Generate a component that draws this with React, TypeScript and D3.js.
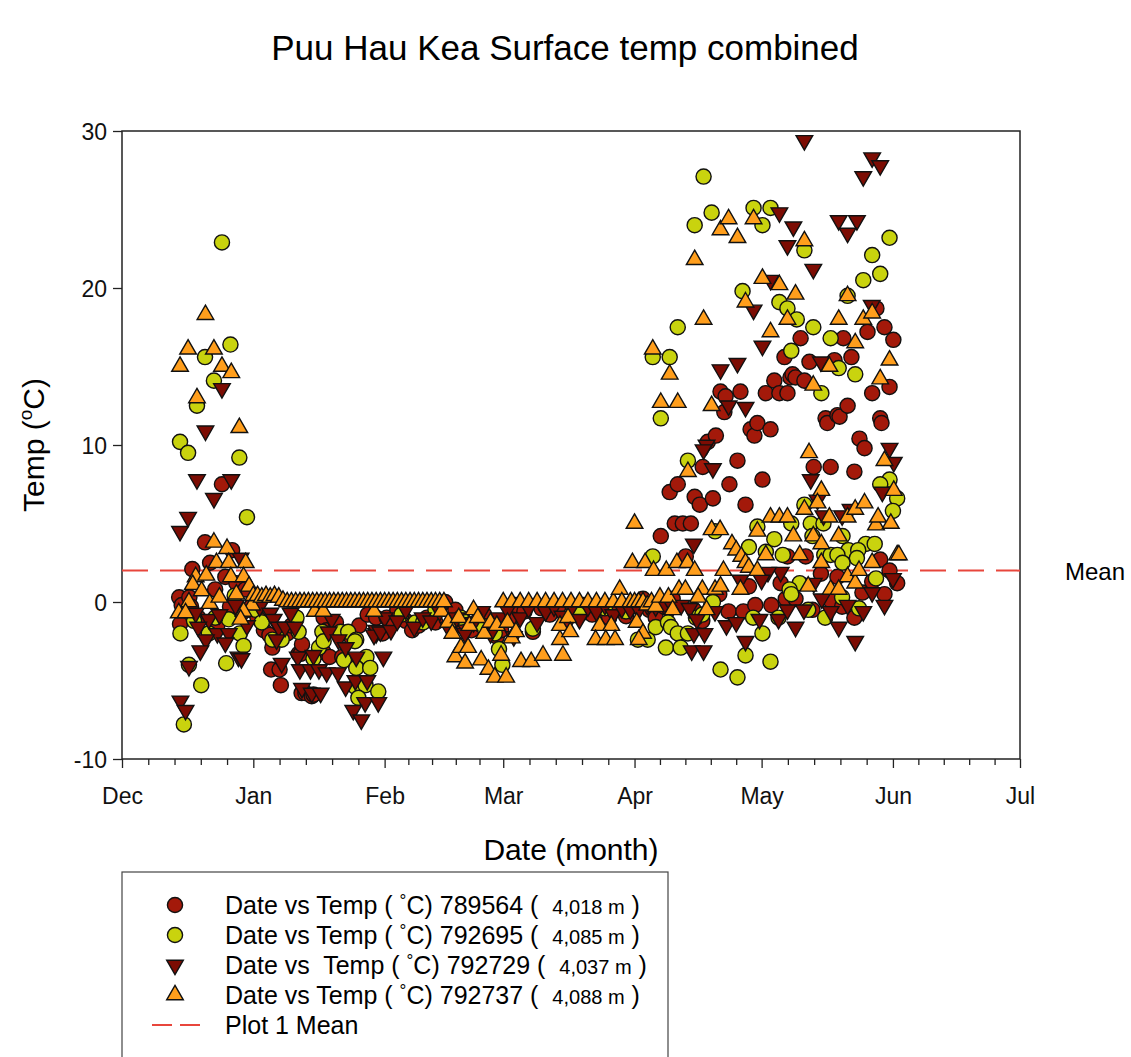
import * as d3 from 'd3';
import React, { useEffect, useRef } from 'react';

// day offsets are counted from Dec 1 (day 0); values are °C
const seriesRed: [number, number][] = [
  [13.5, 0.3], [13.7, -1.4], [14.1, -0.2], [15.9, 0.3], [16.3, -0.3], [16.6, 2.1], [18, -1], [19.6, 3.8], [20.8, 2.5],
  [22, 0.8], [22.5, -1.5], [23.6, 7.5], [24.4, 1.6], [25.5, -0.3], [26, 3.3], [27, 1.2], [28, -0.8], [29.1, 0.8], [30, -0.5],
  [30.5, -0.3], [32, -1.0], [33.5, -1.8], [34.8, -2.1], [35.5, -2.9], [35.2, -4.3], [37.2, -4.3], [37.5, -5.3], [39, -2.0],
  [40, -1.5], [41.7, -3.3], [42.2, -3.3], [42.5, -2.7], [42.4, -5.8], [43.3, -5.8], [44.8, -6.0], [45.2, -5.9], [47.6, -3.2],
  [47.6, -1.0], [48.3, -1.8], [49, -3.5], [50.5, -1.3], [52, -3.5], [54, -2.2], [56, -1.5], [58, -0.8], [60, -1.0], [61.5, -2.0],
  [62.5, -1.0], [64, -1.3], [65, -0.5], [67, -1.2], [68.5, -1.8], [70, -1.5], [72, -1.0], [74, -1.3], [76.3, 0], [78.7, -0.5],
  [80, -1.5], [81, -1.3], [82.5, -1.8], [84, -1.2], [85.5, -0.8], [87, -1.5], [88.5, -2.2], [89.5, -1.8],
  [91.6, -1.0], [93, -0.2], [95, -0.6], [97, -1.9], [99, -0.4], [101, -0.8], [103, -0.3], [105, -1.1], [107, -0.5], [109, -0.2],
  [111, -0.8], [113, -0.4], [115, -1.0], [117, -0.5], [119, -0.9],
  [127.2, 4.2], [129.3, 7.0], [131.2, 7.5], [130.5, 5.0], [132.4, 5.0], [134.3, 5.0], [133.1, 2.9], [135.2, 6.7], [136.4, 6.2],
  [137.1, 8.6], [138.3, 10.2], [139.5, 6.6], [140.2, 10.6], [141.3, 13.4], [142.2, 12.1], [142.5, 13.1], [143.4, 7.5], [145.3, 9.0],
  [146, 13.4], [147.2, 6.2], [148.4, 11.0], [149.3, 10.6], [150, 11.4], [151.2, 7.8], [152, 13.3], [153.1, 11.0], [154, 14.1],
  [155.2, 13.3], [156.4, 15.6], [157.1, 13.3], [157.8, 14.3], [158.3, 14.5], [159, 14.3], [160.2, 16.8], [161.1, 14.1],
  [162.3, 15.3], [163.3, 8.6], [166.1, 11.7], [166.5, 11.4], [167.3, 8.6], [168.2, 15.4], [168.9, 11.9], [169.4, 11.8],
  [170.3, 16.8], [171.3, 12.5], [172.2, 15.6], [172.9, 8.3], [174.1, 10.4], [175.3, 9.8], [176, 17.2], [177.1, 13.3],
  [178.1, 18.7], [179, 11.7], [179.3, 11.4], [180, 17.5], [181.2, 13.7], [182.1, 16.7],
  [121.5, -0.3], [123, 0.2], [124.5, -0.5], [126, -1.0], [128, -0.3], [130, 0.2], [135, -0.5], [137, -1.2], [139, -0.3],
  [141, 0.5], [143.2, -0.6], [146.7, -0.6], [148, 1.0], [149.5, -0.2], [153.3, -0.2], [155.5, 1.2], [156.7, 0.2], [157.1, 2.9],
  [159, 0.2], [161.4, 2.9], [163, -0.5], [165, 1.8], [167.3, 0.1], [168.9, 1.6], [170, -0.3], [172.9, -1.0], [174.8, 0.6],
  [177.1, 1.3], [179, 2.7], [180, 0.5], [181.2, 2.0], [183, 1.2],
];

const seriesYellow: [number, number][] = [
  [13.7, 10.2], [15.6, 9.5], [17.7, 12.5], [19.6, 15.6], [21.7, 14.1], [23.6, 22.9], [25.6, 16.4], [27.7, 9.2], [29.5, 5.4],
  [26.6, 0.4], [13.8, -2.0], [20.5, -2.0], [25.2, -1.1], [27.8, -2.0], [28.7, -2.8], [15.8, -4.0], [24.6, -3.9], [18.7, -5.3],
  [14.6, -7.8], [22, -1.0], [17, -1.2],
  [31.5, -0.5], [33, -1.3], [35.5, -2.4], [37.7, -2.4], [41.7, -1.9], [41.2, -1.0], [45.2, -3.6], [46.5, -2.9], [47.3, -1.9],
  [47.6, -2.5], [51.6, -1.9], [53.4, -1.9], [55.3, -2.4], [55, -2.5], [52.4, -3.7], [57.7, -3.5], [55.3, -4.2], [58.6, -4.2],
  [55.1, -5.4], [57.5, -5.3], [60.5, -5.7], [55.8, -6.1],
  [66, -0.8], [69.3, -1.3], [71.1, -1.3], [74, -0.5], [80, -1.0], [85, -1.5], [88, -2.0], [89, -3.0], [89.8, -4.0],
  [97, -1.7], [100, -0.3], [108, -0.8], [114, -0.4], [119, -0.6],
  [125.3, 15.6], [127.2, 11.7], [129.3, 15.6], [131.2, 17.5], [133.6, 9.0], [135.2, 24.0], [137.3, 27.1], [139.2, 24.8],
  [146.5, 19.8], [149.1, 25.1], [151.2, 24.0], [153.1, 25.1], [155.2, 19.1], [157.1, 18.7], [158, 16.0], [159.3, 18.0],
  [161.1, 22.4], [163.2, 17.5], [165.1, 13.3], [167.3, 16.8], [169.2, 14.9], [171.3, 19.5], [173.1, 14.5], [175, 20.5],
  [177.1, 22.1], [179, 20.9], [181.2, 23.2], [181.2, 7.8], [179, 7.5], [183, 6.6], [182, 5.8],
  [161.1, 6.2], [162.6, 5.0], [165.6, 5.0], [163, 4.2], [170.1, 4.2], [175.6, 3.7], [177.7, 3.7], [171.5, 3.3], [173.8, 3.3],
  [173.5, 2.8], [165.8, 3.0], [167.3, 3.0], [168.9, 3.0], [170.1, 2.5], [160, 1.2], [157.6, 0.8], [125.3, 2.9], [148, 3.5],
  [150, 4.8], [152, 3.2], [154, 4.0], [156, 3.0], [158, 5.0], [140, 4.5],
  [121.8, -2.4], [124.1, -2.4], [126, -1.6], [128.4, -2.9], [128.9, -1.3], [129.6, -1.6], [131.2, -2.0], [131.9, -2.9],
  [133.6, -2.0], [135.5, -1.0], [137, -0.8], [139.5, 0], [141.3, -4.3], [145.3, -4.8], [147.2, -3.4], [149, -1.0],
  [151.2, -2.0], [153.1, -3.8], [155, -1.0], [158, 0.5], [162, -0.5], [166, -1.0], [170, 0.3], [174, -0.4], [178, 1.5],
];

const seriesDown: [number, number][] = [
  [13.7, 4.5], [15.6, 5.4], [17.7, 7.8], [19.7, 10.9], [21.7, 6.6], [23.6, 13.6], [25.8, 7.8], [28, 2.8], [26.8, -0.2],
  [17.4, -0.7], [20.5, -1.1], [18, -1.6], [22.5, -2.0], [25.2, -2.0], [19.8, -2.4], [24.4, -2.6], [18.5, -3.1], [27.5, -3.5],
  [28.2, -3.6], [15.8, -4.1], [13.8, -6.3], [15, -6.9], [23, -0.8], [29.5, -1.5],
  [32.5, -0.3], [35, -0.7], [35.8, -1.1], [37, -1.6], [36.5, -2.4], [38.5, -1.6], [39.8, -0.7], [40.8, -1.6], [37.7, -3.9],
  [41.5, -3.5], [45.2, -3.4], [42, -4.3], [44.5, -4.3], [46.5, -4.3], [42.5, -5.5], [44.8, -5.8], [46.9, -5.8], [48.3, -4.5],
  [49.5, -1.1], [48.8, -1.9], [51.1, -2.4], [51, -4.5], [52.8, -2.9], [55.3, -3.5], [52.8, -5.4], [55.1, -5.0], [57.9, -5.0],
  [57.4, -6.4], [60.5, -6.4], [54.6, -6.9], [56.5, -7.5], [61.7, -3.5], [60, -2.0],
  [62, -1.0], [60, -1.8], [59.5, -2.1], [61, -1.9], [63.5, -1.8], [65, -1.2], [67, -0.5], [69, -1.6], [71, -1.0], [73, -1.2],
  [75, -0.6], [77, -1.6], [79, -1.0], [81, -2.0], [83, -1.3], [85, -0.6], [87, -2.0], [89, -1.0],
  [91, -0.5], [92.5, -2.2], [94, -1.0], [96, -0.4], [98, -1.3], [100, -0.6], [102, -0.3], [104, -0.9], [106, -0.4],
  [108, -1.1], [110, -0.3], [112, -0.6], [114, -0.2], [116, -0.8], [118, -0.4], [120, -0.5],
  [138, 10], [137.3, 9.7], [139.5, 8.5], [141.3, 14.8], [145.3, 15.2], [143.2, 12.5], [147.2, 12.4], [149.1, 18.6],
  [151.2, 16.3], [153.1, 20.5], [155.2, 24.8], [157.1, 22.7], [158.5, 23.9], [161.1, 29.4], [163.2, 21.2], [165, 15.3],
  [169.2, 24.3], [173.5, 24.3], [171.3, 23.5], [175, 27.1], [177.1, 28.3], [179, 27.8], [177, 18.9], [181.2, 9.8],
  [182.2, 8.9], [179.5, 7.0], [162.6, 7.8], [164.2, 6.5], [165.6, 5.5], [170, 5.5], [172, 5.9], [155.5, 1.9], [152.5, 1.9],
  [151, 1.4], [146, 1.4], [135, 3.7],
  [122, -0.5], [124, -0.2], [126, -0.3], [128, -0.2], [130, -0.3], [132, -0.2], [134, -0.4], [135.7, -1.1], [135, -2.0],
  [137.5, -2.0], [134.5, -3.1], [137.3, -3.1], [140, -0.6], [142.7, -1.5], [145, -1.3], [147.2, -2.5], [150.5, -1.1],
  [155, -1.1], [157.1, -0.5], [159, -1.6], [161, -0.5], [163.3, 1.2], [165.2, 0.2], [167.3, -0.6], [169.2, -1.6],
  [171.3, -0.2], [173.1, -2.5], [175, -0.6], [177.1, 0.6], [180, -0.2], [182, 1.5],
];

const seriesUp: [number, number][] = [
  [13.7, 15.0], [15.6, 16.1], [17.7, 13.0], [19.7, 18.3], [21.7, 16.1], [23.6, 15.0], [25.8, 14.6], [27.7, 11.1], [21.7, 3.8],
  [24.8, 3.4], [22.3, 2.5], [25.2, 2.5], [29.2, 2.5], [17.4, 1.6], [19.9, 1.7], [25.7, 1.6], [28.7, 1.6], [16.7, 1.1],
  [18.8, 0.7], [15.8, 0], [20.7, -0.1], [30.7, -0.2], [28.7, -0.6], [13.4, -0.7], [15, -0.7], [28, -1.1], [27, 0.5],
  [23, 0.3], [30, 1.0], [31, 0.4],
  [32, 0.4], [33, 0.3], [34, 0.4], [35, 0.3], [36, 0.4], [37, 0.3], [38, 0.1], [39, 0], [40, 0], [41, 0], [42, 0], [43, 0],
  [44, 0], [45, 0], [45.5, -0.6], [46, 0], [47, 0], [47.5, -0.6], [48, 0], [49, 0], [50, 0], [51, 0], [52, 0], [53, 0],
  [54, 0], [55, 0], [56, 0], [57, 0], [58, 0], [59, 0], [59.5, -0.6], [60, 0], [61, 0], [62, 0],
  [63, 0], [64, 0], [65, 0], [66, 0], [67, 0], [68, 0], [69, 0], [70, 0], [71, 0], [72, 0], [73, 0], [74, 0], [75, 0],
  [75.4, -0.6], [76, 0], [77, -1.3], [78, -2.0], [78.7, -3.5], [79.5, -1.0], [80, -2.9], [81, -3.9], [81.7, -2.9], [82, -1.5],
  [83, -0.5], [84, -1.0], [84.8, -3.7], [85.5, -2.0], [86.5, -4.3], [87, -1.3], [88, -4.8], [88.5, -1.5], [89.5, -3.4],
  [90.7, -4.8], [90, 0], [91, -1.3], [92, -2.3], [93, -1.9], [94.2, -3.8], [96.6, -3.8], [99.4, -3.4], [92, 0], [94, 0],
  [96, 0], [98, 0], [100, 0], [102, 0], [103.4, -2.4], [103.4, -1.5], [104.1, -3.4], [105.3, -1.0], [105.8, -1.9], [104, 0],
  [106, 0], [108, 0], [110, 0], [112, 0], [112.8, -1.5], [115.5, -1.5], [111.8, -2.4], [114.2, -2.4], [116.4, -2.4],
  [114, 0], [116, 0], [117.5, 0.8], [118, 0], [120, 0],
  [125.3, 16.1], [127.2, 12.7], [129.3, 14.5], [131.2, 12.7], [133.6, 8.3], [135.2, 21.8], [137.3, 18.0], [139.2, 12.5],
  [141.3, 23.7], [143.2, 24.4], [145.3, 23.2], [147.2, 19.1], [149.1, 24.4], [151.2, 20.6], [153.1, 17.2], [155.2, 20.2],
  [157.1, 18.0], [159, 19.6], [161.1, 23.0], [163.2, 13.8], [162.2, 9.5], [165.1, 7.1], [167, 15.0], [169.2, 18.0],
  [171.3, 19.5], [173.1, 16.5], [175, 18.0], [177.1, 18.4], [179, 14.2], [181.2, 15.4], [180, 9.0], [182.2, 7.1],
  [121, 5.0], [120.5, 2.5], [123.5, 2.5], [125.5, 2.0], [128.5, 2.0], [131, 2.5], [133.5, 2.5], [135.2, 2.0], [137, 0.8],
  [140, 0.8], [139.2, 4.6], [141.2, 4.6], [144, 3.7], [145, 3.3], [146.2, 2.9], [147.2, 2.5], [141.3, 1.0], [146, 0.8],
  [142, 2.0], [148, 2.2], [150, 4.5], [152, 3.0], [153.1, 5.4], [155.2, 5.4], [157.1, 5.4], [158.5, 4.2], [161.1, 5.9],
  [163.2, 4.2], [164.2, 6.3], [165.1, 3.7], [167, 5.4], [169.2, 4.2], [171.3, 5.4], [171.3, 1.6], [173.1, 5.9], [173.1, 1.2],
  [174, 2.0], [175.3, 6.3], [177.1, 2.5], [178, 4.9], [178.5, 5.4], [181.5, 5.0], [183, 3.0], [183.4, 3.0], [167.3, 0.8],
  [169.2, 0.8], [165.1, 2.5], [150, 2.0], [160, 3.0], [162, 1.0],
  [121, 0], [122, 0], [123, 0], [124, -0.2], [125, 0], [126, -0.3], [121.5, -1.3], [123, -2.0], [122, -2.4], [127, 0.3],
  [129, 0.3], [131.5, 0.8], [133, 0.8], [136, 0.3], [138, -0.5], [130, -0.5],
];

const meanTemp = 2.0;
const monthLabels = ['Dec', 'Jan', 'Feb', 'Mar', 'Apr', 'May', 'Jun', 'Jul'];
const yTicks = [-10, 0, 10, 20, 30];
const legendLabels = [
  { pre: 'Date vs Temp (', id: '789564 ( ', elev: '4,018 m', post: ' )' },
  { pre: 'Date vs Temp (', id: '792695 ( ', elev: '4,085 m', post: ' )' },
  { pre: 'Date vs  Temp (', id: '792729 ( ', elev: '4,037 m', post: ' )' },
  { pre: 'Date vs Temp (', id: '792737 ( ', elev: '4,088 m', post: ' )' },
];

const start = new Date(2014, 11, 1);
const end = new Date(2015, 6, 1);
const toDate = (d: number) => new Date(start.getTime() + d * 86400000);

const FONT = 'Liberation Sans, Arial, sans-serif';

function App() {
  const ref = useRef<SVGSVGElement>(null);

  useEffect(() => {
    const svg = d3.select(ref.current);
    svg.selectAll('*').remove();

    const left = 122, right = 1020, top = 131, bottom = 759;

    const x = d3.scaleTime().domain([start, end]).range([left, right]);
    const y = d3.scaleLinear().domain([-10, 30]).range([bottom, top]);

    svg.append('text')
      .attr('x', 565).attr('y', 60)
      .attr('text-anchor', 'middle')
      .style('font-family', FONT).style('font-size', '35px')
      .text('Puu Hau Kea Surface temp combined');

    // frame
    svg.append('rect')
      .attr('x', left).attr('y', top)
      .attr('width', right - left).attr('height', bottom - top)
      .attr('fill', 'none').attr('stroke', '#222').attr('stroke-width', 1.5);

    // x axis: month ticks plus 4 minor ticks per month
    const months = d3.timeMonth.range(start, d3.timeDay.offset(end, 1));
    const minor: Date[] = [];
    months.slice(0, -1).forEach((m, i) => {
      const a = m.getTime(), b = months[i + 1].getTime();
      for (let k = 1; k < 5; k++) minor.push(new Date(a + (b - a) * k / 5));
    });
    const xa = svg.append('g').attr('transform', `translate(0,${bottom})`);
    xa.call(d3.axisBottom(x).tickValues(months).tickSize(9).tickFormat((d, i) => monthLabels[i]) as any);
    xa.append('g').call(d3.axisBottom(x).tickValues(minor).tickSize(6).tickFormat(() => '') as any);
    xa.selectAll('.domain').remove();
    xa.selectAll('line').attr('stroke', '#222').attr('stroke-width', 1.3);
    xa.selectAll('text').attr('dy', '1.45em')
      .style('font-family', FONT).style('font-size', '23px').attr('fill', '#111');

    const ya = svg.append('g').attr('transform', `translate(${left},0)`);
    ya.call(d3.axisLeft(y).tickValues(yTicks).tickSize(9).tickPadding(6).tickFormat(d => String(d)) as any);
    ya.selectAll('.domain').remove();
    ya.selectAll('line').attr('stroke', '#222').attr('stroke-width', 1.3);
    ya.selectAll('text').attr('dy', '0.35em')
      .style('font-family', FONT).style('font-size', '23px').attr('fill', '#111');

    svg.append('text')
      .attr('x', 571).attr('y', 860)
      .attr('text-anchor', 'middle')
      .style('font-family', FONT).style('font-size', '30px')
      .text('Date (month)');

    const yt = svg.append('text')
      .attr('transform', `translate(44,445) rotate(-90)`)
      .attr('text-anchor', 'middle')
      .style('font-family', FONT).style('font-size', '30px');
    yt.append('tspan').text('Temp (');
    yt.append('tspan').attr('dy', -12).style('font-size', '19px').text('o');
    yt.append('tspan').attr('dy', 12).text('C)');

    // mean line
    svg.append('line')
      .attr('x1', left).attr('x2', right)
      .attr('y1', y(meanTemp)).attr('y2', y(meanTemp))
      .attr('stroke', '#e8463c').attr('stroke-width', 2)
      .attr('stroke-dasharray', '26 12');
    svg.append('text')
      .attr('x', 1065).attr('y', y(meanTemp) + 9)
      .style('font-family', FONT).style('font-size', '24px')
      .text('Mean');

    const circle = d3.symbol().type(d3.symbolCircle).size(180)();
    const tri = d3.symbol().type(d3.symbolTriangle).size(120)();

    const series = [
      { data: seriesRed, path: circle, fill: '#a3190a', rot: 0 },
      { data: seriesYellow, path: circle, fill: '#c9d30e', rot: 0 },
      { data: seriesDown, path: tri, fill: '#7c0c03', rot: 180 },
      { data: seriesUp, path: tri, fill: '#ff9e1c', rot: 0 },
    ];

    const plot = svg.append('g');
    series.forEach(s => {
      plot.append('g').selectAll('path')
        .data(s.data)
        .join('path')
        .attr('d', s.path)
        .attr('transform', d => `translate(${x(toDate(d[0]))},${y(d[1])}) rotate(${s.rot})`)
        .attr('fill', s.fill)
        .attr('stroke', '#111')
        .attr('stroke-width', 1.4);
    });

    // legend
    const lg = svg.append('g');
    lg.append('rect')
      .attr('x', 122).attr('y', 872).attr('width', 546).attr('height', 220)
      .attr('fill', 'white').attr('stroke', '#444').attr('stroke-width', 1.2);
    const rows = [905, 935, 965, 995, 1025];
    series.forEach((s, i) => {
      lg.append('path')
        .attr('d', s.path)
        .attr('transform', `translate(175,${rows[i]}) rotate(${s.rot})`)
        .attr('fill', s.fill).attr('stroke', '#111').attr('stroke-width', 1.4);
      const t = lg.append('text')
        .attr('x', 225).attr('y', rows[i] + 9)
        .style('font-family', FONT).style('font-size', '25px')
        .attr('xml:space', 'preserve').style('white-space', 'pre');
      const lab = legendLabels[i];
      t.append('tspan').text(lab.pre + ' ');
      t.append('tspan').attr('dy', -8).style('font-size', '17px').text('°');
      t.append('tspan').attr('dy', 8).text('C) ' + lab.id + ' ');
      t.append('tspan').style('font-size', '20px').text(lab.elev);
      t.append('tspan').text(lab.post);
    });
    lg.append('line')
      .attr('x1', 152).attr('x2', 200)
      .attr('y1', rows[4]).attr('y2', rows[4])
      .attr('stroke', '#e8463c').attr('stroke-width', 2)
      .attr('stroke-dasharray', '20 8');
    lg.append('text')
      .attr('x', 225).attr('y', rows[4] + 9)
      .style('font-family', FONT).style('font-size', '25px')
      .text('Plot 1 Mean');
  }, []);

  return (
    <svg ref={ref} width={1131} height={1057}
      style={{ position: 'absolute', left: 0, top: 0, background: 'white' }} />
  );
}

export default App;
